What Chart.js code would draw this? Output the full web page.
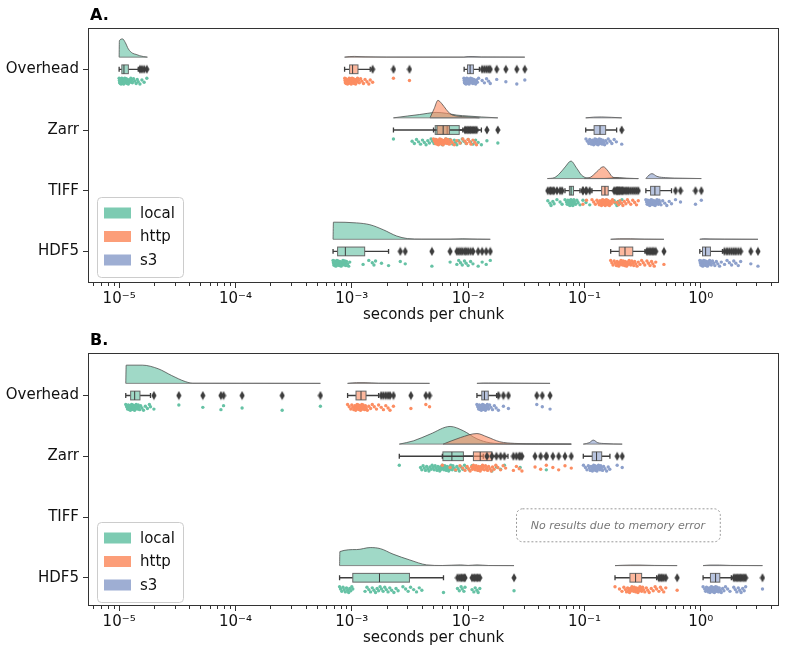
<!DOCTYPE html>
<html>
<head>
<meta charset="utf-8">
<script src="https://cdn.jsdelivr.net/npm/chart.js@4.4.1/dist/chart.umd.min.js"></script>
<style>
  html, body { margin: 0; padding: 0; background: #fff; }
  #wrapA { position: absolute; left: 0; top: 0; width: 800px; height: 330px; }
  #wrapB { position: absolute; left: 0; top: 330px; width: 800px; height: 326px; }
</style>
</head>
<body>
<div id="wrapA"><canvas id="chartA"></canvas></div>
<div id="wrapB"><canvas id="chartB"></canvas></div>
<script>
const categories = ["Overhead", "Zarr", "TIFF", "HDF5"];
const groups = ["local", "http", "s3"];
const xTicks = [1e-5, 1e-4, 1e-3, 1e-2, 1e-1, 1];
const noteText = "No results due to memory error";

/* ===== Panel A : box = [whisker lo, q1, median, q3, whisker hi] ===== */
const aOverheadLocalBox = [1.0e-5, 1.055e-5, 1.1e-5, 1.2e-5, 1.46e-5];
const aOverheadLocalOut = [1.51e-5, 1.57e-5, 1.64e-5, 1.73e-5];
const aOverheadLocalPts = [1.0e-5, 1.005e-5, 1.01e-5, 1.015e-5, 1.02e-5, 1.025e-5, 1.03e-5, 1.035e-5, 1.04e-5, 1.045e-5, 1.05e-5, 1.055e-5, 1.06e-5, 1.065e-5, 1.07e-5, 1.075e-5, 1.08e-5, 1.085e-5, 1.09e-5, 1.095e-5, 1.1e-5, 1.11e-5, 1.12e-5, 1.13e-5, 1.14e-5, 1.15e-5, 1.16e-5, 1.17e-5, 1.18e-5, 1.19e-5, 1.2e-5, 1.22e-5, 1.24e-5, 1.26e-5, 1.28e-5, 1.3e-5, 1.33e-5, 1.36e-5, 1.4e-5, 1.43e-5, 1.46e-5];
const aOverheadLocalKde = [[1.0e-5, 0], [1.005e-5, 0.9], [1.07e-5, 1.0], [1.13e-5, 0.8], [1.2e-5, 0.45], [1.3e-5, 0.22], [1.4e-5, 0.15], [1.5e-5, 0.08], [1.62e-5, 0.03], [1.75e-5, 0]];

const aOverheadHttpBox = [8.67e-4, 9.58e-4, 1.016e-3, 1.13e-3, 1.44e-3];
const aOverheadHttpOut = [1.51e-3, 2.28e-3, 3.13e-3];
const aOverheadHttpPts = [8.7e-4, 8.75e-4, 8.8e-4, 8.85e-4, 8.9e-4, 8.95e-4, 9.0e-4, 9.1e-4, 9.2e-4, 9.3e-4, 9.4e-4, 9.5e-4, 9.55e-4, 9.6e-4, 9.65e-4, 9.7e-4, 9.75e-4, 9.8e-4, 9.85e-4, 9.9e-4, 9.95e-4, 1.0e-3, 1.005e-3, 1.01e-3, 1.02e-3, 1.03e-3, 1.04e-3, 1.05e-3, 1.06e-3, 1.07e-3, 1.08e-3, 1.09e-3, 1.1e-3, 1.12e-3, 1.14e-3, 1.16e-3, 1.19e-3, 1.22e-3, 1.26e-3, 1.3e-3, 1.35e-3, 1.4e-3, 1.44e-3];
const aOverheadHttpKde = [[8.67e-4, 0], [9.5e-4, 0.03], [1.05e-3, 0.04], [1.3e-3, 0.02], [2e-3, 0.005], [9.2e-3, 0]];

const aOverheadS3Box = [9.24e-3, 9.87e-3, 1.04e-2, 1.11e-2, 1.25e-2];
const aOverheadS3Out = [1.32e-2, 1.38e-2, 1.44e-2, 1.5e-2, 1.55e-2, 1.76e-2, 2.11e-2, 2.62e-2, 3.07e-2];
const aOverheadS3Pts = [9.2e-3, 9.25e-3, 9.3e-3, 9.35e-3, 9.4e-3, 9.45e-3, 9.5e-3, 9.55e-3, 9.6e-3, 9.65e-3, 9.7e-3, 9.75e-3, 9.8e-3, 9.85e-3, 9.9e-3, 9.95e-3, 1.0e-2, 1.005e-2, 1.01e-2, 1.02e-2, 1.03e-2, 1.04e-2, 1.05e-2, 1.06e-2, 1.07e-2, 1.08e-2, 1.09e-2, 1.1e-2, 1.12e-2, 1.14e-2, 1.16e-2, 1.18e-2, 1.2e-2, 1.23e-2];
const aOverheadS3Kde = [[9.2e-3, 0], [1.0e-2, 0.03], [1.1e-2, 0.03], [1.3e-2, 0.01], [3.07e-2, 0]];

const aZarrLocalBox = [2.28e-3, 5.21e-3, 6.6e-3, 8.38e-3, 1.3e-2];
const aZarrLocalOut = [1.45e-2, 1.8e-2];
const aZarrLocalPts = [2.28e-3, 3.3e-3, 3.45e-3, 3.6e-3, 3.75e-3, 3.9e-3, 4.05e-3, 4.2e-3, 4.35e-3, 4.5e-3, 4.65e-3, 4.8e-3, 4.95e-3, 5.1e-3, 5.25e-3, 5.4e-3, 5.55e-3, 5.7e-3, 5.85e-3, 6.0e-3, 6.15e-3, 6.3e-3, 6.45e-3, 6.6e-3, 6.8e-3, 7.0e-3, 7.2e-3, 7.4e-3, 7.6e-3, 7.8e-3, 8.0e-3, 8.3e-3, 8.6e-3, 8.9e-3, 9.2e-3, 9.6e-3, 1.0e-2, 1.05e-2, 1.1e-2, 1.16e-2, 1.22e-2, 1.3e-2];
const aZarrLocalKde = [[2.28e-3, 0], [3.0e-3, 0.1], [3.8e-3, 0.18], [4.5e-3, 0.25], [5.3e-3, 0.3], [6.5e-3, 0.25], [8e-3, 0.15], [1.0e-2, 0.1], [1.3e-2, 0.05], [1.8e-2, 0]];

const aZarrHttpBox = [5.04e-3, 5.4e-3, 6.1e-3, 6.9e-3, 9.0e-3];
const aZarrHttpOut = [9.4e-3, 9.7e-3, 1.0e-2, 1.03e-2, 1.06e-2, 1.1e-2, 1.14e-2, 1.18e-2];
const aZarrHttpPts = [5.04e-3, 5.15e-3, 5.25e-3, 5.3e-3, 5.35e-3, 5.4e-3, 5.45e-3, 5.5e-3, 5.55e-3, 5.6e-3, 5.65e-3, 5.7e-3, 5.75e-3, 5.8e-3, 5.85e-3, 5.9e-3, 5.95e-3, 6.0e-3, 6.05e-3, 6.1e-3, 6.2e-3, 6.3e-3, 6.4e-3, 6.5e-3, 6.6e-3, 6.7e-3, 6.8e-3, 6.9e-3, 7.1e-3, 7.3e-3, 7.6e-3, 8.0e-3, 8.5e-3, 9.0e-3];
const aZarrHttpKde = [[4.7e-3, 0], [5.1e-3, 0.5], [5.5e-3, 0.96], [5.9e-3, 0.8], [6.5e-3, 0.45], [7.1e-3, 0.2], [8e-3, 0.1], [1.0e-2, 0.05], [1.25e-2, 0]];

const aZarrS3Box = [0.1025, 0.121, 0.136, 0.152, 0.189];
const aZarrS3Out = [0.209];
const aZarrS3Pts = [0.103, 0.106, 0.109, 0.111, 0.113, 0.115, 0.117, 0.119, 0.12, 0.121, 0.122, 0.123, 0.124, 0.125, 0.126, 0.127, 0.128, 0.129, 0.13, 0.131, 0.132, 0.133, 0.134, 0.135, 0.136, 0.138, 0.14, 0.142, 0.144, 0.146, 0.149, 0.152, 0.156, 0.16, 0.166, 0.172, 0.18, 0.188];
const aZarrS3Kde = [[0.1025, 0], [0.12, 0.04], [0.14, 0.05], [0.17, 0.03], [0.209, 0]];

const aTiffLocalBox = [0.068, 0.0742, 0.0767, 0.0805, 0.0915];
const aTiffLocalOut = [0.0484, 0.0505, 0.0516, 0.0535, 0.0548, 0.058, 0.0617, 0.0642, 0.097, 0.103, 0.111, 0.18, 0.185, 0.19, 0.195, 0.2, 0.21];
const aTiffLocalPts = [0.068, 0.07, 0.071, 0.072, 0.073, 0.0735, 0.074, 0.0745, 0.075, 0.0755, 0.076, 0.0763, 0.0766, 0.077, 0.0773, 0.0776, 0.078, 0.0785, 0.079, 0.0795, 0.08, 0.0805, 0.081, 0.082, 0.084, 0.086, 0.088, 0.0915];
const aTiffLocalKde = [[0.048, 0], [0.055, 0.05], [0.0616, 0.3], [0.0683, 0.64], [0.0765, 0.96], [0.0857, 0.57], [0.0947, 0.18], [0.104, 0.04], [0.12, 0.01], [0.15, 0.01], [0.18, 0.06], [0.2, 0.05], [0.23, 0.01], [0.29, 0]];

const aTiffHttpBox = [0.116, 0.1405, 0.15, 0.16, 0.179];
const aTiffHttpOut = [0.097, 0.104, 0.19, 0.196, 0.202, 0.208, 0.214, 0.22, 0.227, 0.234, 0.24, 0.25, 0.26, 0.27, 0.28, 0.29];
const aTiffHttpPts = [0.116, 0.12, 0.124, 0.128, 0.131, 0.134, 0.136, 0.138, 0.14, 0.141, 0.142, 0.143, 0.144, 0.145, 0.146, 0.147, 0.148, 0.149, 0.15, 0.151, 0.152, 0.153, 0.154, 0.155, 0.156, 0.157, 0.158, 0.159, 0.16, 0.162, 0.164, 0.167, 0.17, 0.174, 0.178];
const aTiffHttpKde = [[0.1, 0], [0.113, 0.08], [0.127, 0.36], [0.145, 0.65], [0.16, 0.4], [0.172, 0.12], [0.185, 0.04], [0.22, 0.02], [0.29, 0]];

const aTiffS3Box = [0.337, 0.37, 0.403, 0.445, 0.56];
const aTiffS3Out = [0.606, 0.669, 0.9, 1.01];
const aTiffS3Pts = [0.337, 0.342, 0.346, 0.35, 0.353, 0.356, 0.359, 0.362, 0.365, 0.368, 0.371, 0.374, 0.377, 0.38, 0.384, 0.388, 0.392, 0.396, 0.4, 0.405, 0.41, 0.415, 0.42, 0.426, 0.432, 0.438, 0.445, 0.455, 0.47, 0.49, 0.51, 0.535, 0.56];
const aTiffS3Kde = [[0.337, 0], [0.36, 0.2], [0.38, 0.27], [0.42, 0.12], [0.5, 0.05], [0.7, 0.02], [1.01, 0]];

const aHdfLocalBox = [6.9e-4, 7.55e-4, 8.8e-4, 1.29e-3, 2.07e-3];
const aHdfLocalOut = [2.61e-3, 2.88e-3, 4.88e-3, 7.0e-3, 8.0e-3, 8.3e-3, 8.6e-3, 8.9e-3, 9.3e-3, 9.6e-3, 1.0e-2, 1.05e-2, 1.1e-2, 1.22e-2, 1.32e-2, 1.43e-2, 1.55e-2];
const aHdfLocalPts = [6.9e-4, 6.95e-4, 7.0e-4, 7.05e-4, 7.1e-4, 7.15e-4, 7.2e-4, 7.25e-4, 7.3e-4, 7.35e-4, 7.4e-4, 7.45e-4, 7.5e-4, 7.55e-4, 7.6e-4, 7.7e-4, 7.8e-4, 7.9e-4, 8.0e-4, 8.1e-4, 8.2e-4, 8.3e-4, 8.4e-4, 8.5e-4, 8.6e-4, 8.7e-4, 8.8e-4, 8.9e-4, 9.0e-4, 9.2e-4, 9.4e-4, 9.6e-4, 1.25e-3, 1.4e-3, 1.5e-3, 1.55e-3, 1.6e-3, 1.8e-3, 2.07e-3];
const aHdfLocalKde = [[6.9e-4, 0], [6.95e-4, 0.94], [1.1e-3, 0.9], [1.43e-3, 0.8], [1.87e-3, 0.52], [2.43e-3, 0.18], [3.0e-3, 0.04], [4e-3, 0.01], [7e-3, 0.01], [9e-3, 0.03], [1.2e-2, 0.01], [1.55e-2, 0]];

const aHdfHttpBox = [0.168, 0.199, 0.223, 0.26, 0.331];
const aHdfHttpOut = [0.344, 0.355, 0.366, 0.377, 0.387, 0.398, 0.41, 0.482];
const aHdfHttpPts = [0.168, 0.172, 0.176, 0.18, 0.184, 0.188, 0.191, 0.194, 0.197, 0.2, 0.203, 0.206, 0.209, 0.212, 0.215, 0.218, 0.221, 0.224, 0.227, 0.23, 0.234, 0.238, 0.242, 0.246, 0.25, 0.255, 0.26, 0.265, 0.27, 0.276, 0.283, 0.29, 0.3, 0.31, 0.32, 0.33];
const aHdfHttpKde = [[0.168, 0], [0.2, 0.03], [0.25, 0.03], [0.33, 0.01], [0.482, 0]];

const aHdfS3Box = [0.98, 1.034, 1.1, 1.21, 1.535];
const aHdfS3Out = [1.6, 1.68, 1.76, 1.84, 1.92, 2.0, 2.1, 2.2, 2.69, 3.1];
const aHdfS3Pts = [0.98, 0.99, 1.0, 1.01, 1.02, 1.025, 1.03, 1.035, 1.04, 1.045, 1.05, 1.06, 1.07, 1.08, 1.09, 1.1, 1.11, 1.12, 1.13, 1.14, 1.15, 1.17, 1.19, 1.21, 1.23, 1.26, 1.29, 1.32, 1.36, 1.4, 1.45, 1.5];
const aHdfS3Kde = [[0.98, 0], [1.05, 0.03], [1.2, 0.02], [1.6, 0.01], [3.1, 0]];

/* ===== Panel B ===== */
const bOverheadLocalBox = [1.14e-5, 1.256e-5, 1.36e-5, 1.51e-5, 1.86e-5];
const bOverheadLocalOut = [1.99e-5, 3.26e-5, 5.24e-5, 7.5e-5, 7.9e-5, 1.14e-4, 2.52e-4, 5.37e-4];
const bOverheadLocalPts = [1.14e-5, 1.16e-5, 1.18e-5, 1.2e-5, 1.21e-5, 1.22e-5, 1.23e-5, 1.24e-5, 1.25e-5, 1.26e-5, 1.27e-5, 1.28e-5, 1.29e-5, 1.3e-5, 1.31e-5, 1.32e-5, 1.33e-5, 1.34e-5, 1.35e-5, 1.36e-5, 1.37e-5, 1.38e-5, 1.4e-5, 1.42e-5, 1.44e-5, 1.46e-5, 1.48e-5, 1.5e-5, 1.53e-5, 1.57e-5, 1.62e-5, 1.68e-5, 1.75e-5, 1.82e-5, 1.86e-5];
const bOverheadLocalKde = [[1.14e-5, 0], [1.15e-5, 1.0], [1.58e-5, 1.0], [2.17e-5, 0.8], [2.83e-5, 0.43], [3.7e-5, 0.1], [4.3e-5, 0.01], [5.37e-4, 0]];

const bOverheadHttpBox = [9.2e-4, 1.087e-3, 1.2e-3, 1.325e-3, 1.7e-3];
const bOverheadHttpOut = [1.79e-3, 1.87e-3, 1.96e-3, 2.05e-3, 2.13e-3, 2.28e-3, 3.22e-3, 4.33e-3, 4.66e-3];
const bOverheadHttpPts = [9.2e-4, 9.5e-4, 9.8e-4, 1.0e-3, 1.02e-3, 1.04e-3, 1.06e-3, 1.07e-3, 1.08e-3, 1.09e-3, 1.1e-3, 1.11e-3, 1.12e-3, 1.13e-3, 1.14e-3, 1.15e-3, 1.16e-3, 1.17e-3, 1.18e-3, 1.19e-3, 1.2e-3, 1.21e-3, 1.22e-3, 1.23e-3, 1.24e-3, 1.25e-3, 1.27e-3, 1.29e-3, 1.31e-3, 1.33e-3, 1.36e-3, 1.4e-3, 1.45e-3, 1.5e-3, 1.56e-3, 1.63e-3, 1.7e-3];
const bOverheadHttpKde = [[9.2e-4, 0], [1.1e-3, 0.04], [1.3e-3, 0.04], [1.7e-3, 0.01], [4.66e-3, 0]];

const bOverheadS3Box = [1.19e-2, 1.31e-2, 1.38e-2, 1.49e-2, 1.76e-2];
const bOverheadS3Out = [1.82e-2, 2.01e-2, 2.22e-2, 3.89e-2, 4.34e-2, 5.06e-2];
const bOverheadS3Pts = [1.19e-2, 1.21e-2, 1.23e-2, 1.25e-2, 1.26e-2, 1.27e-2, 1.28e-2, 1.29e-2, 1.3e-2, 1.31e-2, 1.32e-2, 1.33e-2, 1.34e-2, 1.35e-2, 1.36e-2, 1.37e-2, 1.38e-2, 1.39e-2, 1.4e-2, 1.41e-2, 1.42e-2, 1.44e-2, 1.46e-2, 1.48e-2, 1.5e-2, 1.53e-2, 1.57e-2, 1.62e-2, 1.68e-2, 1.74e-2];
const bOverheadS3Kde = [[1.19e-2, 0], [1.35e-2, 0.02], [1.5e-2, 0.02], [5.06e-2, 0]];

const bZarrLocalBox = [2.56e-3, 6.07e-3, 7.25e-3, 9.1e-3, 1.35e-2];
const bZarrLocalOut = [1.45e-2, 1.6e-2, 1.75e-2, 1.9e-2, 2.05e-2, 2.8e-2, 4.7e-2];
const bZarrLocalPts = [2.56e-3, 3.9e-3, 4.0e-3, 4.1e-3, 4.2e-3, 4.3e-3, 4.4e-3, 4.5e-3, 4.6e-3, 4.7e-3, 4.8e-3, 4.9e-3, 5.0e-3, 5.1e-3, 5.2e-3, 5.3e-3, 5.4e-3, 5.5e-3, 5.6e-3, 5.7e-3, 5.8e-3, 5.9e-3, 6.0e-3, 6.1e-3, 6.2e-3, 6.3e-3, 6.4e-3, 6.5e-3, 6.6e-3, 6.7e-3, 6.8e-3, 6.9e-3, 7.0e-3, 7.1e-3, 7.2e-3, 7.3e-3, 7.4e-3, 7.6e-3, 7.8e-3, 8.0e-3, 8.2e-3, 8.4e-3, 8.7e-3, 9.0e-3, 9.3e-3, 9.7e-3, 1.02e-2, 1.08e-2, 1.15e-2, 1.22e-2, 1.3e-2];
const bZarrLocalKde = [[2.56e-3, 0], [3.39e-3, 0.18], [4.72e-3, 0.55], [7.0e-3, 0.97], [9.1e-3, 0.73], [1.19e-2, 0.29], [1.55e-2, 0.07], [2.2e-2, 0.02], [4e-2, 0.01], [7.7e-2, 0]];

const bZarrHttpBox = [6.0e-3, 1.11e-2, 1.27e-2, 1.6e-2, 2.2e-2];
const bZarrHttpOut = [2.45e-2, 2.6e-2, 2.75e-2, 2.9e-2, 3.76e-2, 4.2e-2, 4.7e-2, 5.35e-2, 6.0e-2, 6.8e-2, 7.7e-2];
const bZarrHttpPts = [6.0e-3, 7.0e-3, 7.8e-3, 8.5e-3, 9.0e-3, 9.4e-3, 9.8e-3, 1.01e-2, 1.04e-2, 1.07e-2, 1.09e-2, 1.11e-2, 1.13e-2, 1.15e-2, 1.17e-2, 1.19e-2, 1.21e-2, 1.23e-2, 1.25e-2, 1.27e-2, 1.29e-2, 1.31e-2, 1.33e-2, 1.35e-2, 1.38e-2, 1.41e-2, 1.44e-2, 1.47e-2, 1.5e-2, 1.54e-2, 1.58e-2, 1.62e-2, 1.67e-2, 1.73e-2, 1.8e-2, 1.9e-2, 2.0e-2, 2.1e-2];
const bZarrHttpKde = [[6.1e-3, 0], [8.6e-3, 0.36], [1.19e-2, 0.58], [1.45e-2, 0.4], [1.87e-2, 0.13], [2.5e-2, 0.04], [4e-2, 0.01], [7.7e-2, 0]];

const bZarrS3Box = [0.0977, 0.1166, 0.127, 0.1406, 0.1655];
const bZarrS3Out = [0.191, 0.211];
const bZarrS3Pts = [0.098, 0.102, 0.105, 0.108, 0.11, 0.112, 0.114, 0.116, 0.117, 0.118, 0.119, 0.12, 0.121, 0.122, 0.123, 0.124, 0.125, 0.126, 0.127, 0.128, 0.129, 0.13, 0.132, 0.134, 0.136, 0.138, 0.14, 0.143, 0.146, 0.15, 0.155, 0.16, 0.165];
const bZarrS3Kde = [[0.0977, 0], [0.11, 0.08], [0.119, 0.22], [0.13, 0.08], [0.15, 0.03], [0.211, 0]];

const bHdfLocalBox = [7.85e-4, 1.02e-3, 1.73e-3, 3.13e-3, 6.14e-3];
const bHdfLocalOut = [8.1e-3, 8.4e-3, 8.7e-3, 8.9e-3, 9.2e-3, 9.4e-3, 1.08e-2, 1.12e-2, 1.15e-2, 1.19e-2, 1.22e-2, 1.26e-2, 2.48e-2];
const bHdfLocalPts = [7.85e-4, 8.0e-4, 8.2e-4, 8.4e-4, 8.6e-4, 8.8e-4, 9.0e-4, 9.2e-4, 9.4e-4, 9.6e-4, 9.8e-4, 1.0e-3, 1.02e-3, 1.3e-3, 1.35e-3, 1.4e-3, 1.45e-3, 1.5e-3, 1.55e-3, 1.6e-3, 1.65e-3, 1.7e-3, 1.75e-3, 1.8e-3, 1.86e-3, 1.92e-3, 1.98e-3, 2.05e-3, 2.12e-3, 2.2e-3, 2.3e-3, 2.4e-3, 2.5e-3, 2.75e-3, 2.9e-3, 3.05e-3, 3.2e-3, 3.4e-3, 3.6e-3, 3.8e-3, 4.0e-3, 6.14e-3];
const bHdfLocalKde = [[7.85e-4, 0], [7.9e-4, 0.77], [1.1e-3, 0.88], [1.44e-3, 0.99], [1.76e-3, 0.93], [2.26e-3, 0.63], [3.15e-3, 0.31], [4.4e-3, 0.04], [6e-3, 0.005], [8.6e-3, 0.04], [1.0e-2, 0.01], [1.19e-2, 0.04], [1.5e-2, 0.005], [2.48e-2, 0]];

const bHdfHttpBox = [0.183, 0.246, 0.275, 0.31, 0.417];
const bHdfHttpOut = [0.436, 0.45, 0.463, 0.48, 0.5, 0.626];
const bHdfHttpPts = [0.183, 0.2, 0.21, 0.218, 0.225, 0.23, 0.235, 0.24, 0.244, 0.248, 0.252, 0.256, 0.26, 0.264, 0.268, 0.272, 0.276, 0.28, 0.284, 0.288, 0.292, 0.296, 0.3, 0.305, 0.31, 0.316, 0.322, 0.33, 0.34, 0.35, 0.36, 0.375, 0.39, 0.405, 0.417];
const bHdfHttpKde = [[0.183, 0], [0.25, 0.03], [0.3, 0.03], [0.4, 0.01], [0.626, 0]];

const bHdfS3Box = [1.046, 1.21, 1.34, 1.456, 1.83];
const bHdfS3Out = [1.92, 1.98, 2.04, 2.1, 2.16, 2.22, 2.29, 2.36, 2.43, 3.39];
const bHdfS3Pts = [1.046, 1.08, 1.1, 1.12, 1.14, 1.16, 1.18, 1.19, 1.2, 1.21, 1.22, 1.23, 1.24, 1.25, 1.26, 1.27, 1.28, 1.29, 1.3, 1.31, 1.32, 1.33, 1.34, 1.35, 1.36, 1.38, 1.4, 1.42, 1.44, 1.47, 1.5, 1.54, 1.58, 1.63, 1.7, 1.78];
const bHdfS3Kde = [[1.046, 0], [1.2, 0.03], [1.45, 0.03], [1.8, 0.01], [3.39, 0]];

/* ===============================
   LOOK
================================ */
const FONT = "'DejaVu Sans', sans-serif";
const lineColors = ["#66c2a5", "#fc8d62", "#8da0cb"];
const fillColors = ["rgba(102,194,165,0.62)", "rgba(252,141,98,0.62)", "rgba(141,160,203,0.62)"];
const legendColors = ["rgba(102,194,165,0.85)", "rgba(252,141,98,0.85)", "rgba(141,160,203,0.85)"];
const X_MIN = 5.4e-6, X_MAX = 4.7;
const VIOLIN_GAP = 0.2, VIOLIN_H = 0.3, STRIP_OFF = 0.195, BOX_HALF = 0.072, CAP_HALF = 0.04;

const grp = (box, out, pts, kde) => ({ box, out, pts, kde });

const panelA = [
  [grp(aOverheadLocalBox, aOverheadLocalOut, aOverheadLocalPts, aOverheadLocalKde),
   grp(aOverheadHttpBox, aOverheadHttpOut, aOverheadHttpPts, aOverheadHttpKde),
   grp(aOverheadS3Box, aOverheadS3Out, aOverheadS3Pts, aOverheadS3Kde)],
  [grp(aZarrLocalBox, aZarrLocalOut, aZarrLocalPts, aZarrLocalKde),
   grp(aZarrHttpBox, aZarrHttpOut, aZarrHttpPts, aZarrHttpKde),
   grp(aZarrS3Box, aZarrS3Out, aZarrS3Pts, aZarrS3Kde)],
  [grp(aTiffLocalBox, aTiffLocalOut, aTiffLocalPts, aTiffLocalKde),
   grp(aTiffHttpBox, aTiffHttpOut, aTiffHttpPts, aTiffHttpKde),
   grp(aTiffS3Box, aTiffS3Out, aTiffS3Pts, aTiffS3Kde)],
  [grp(aHdfLocalBox, aHdfLocalOut, aHdfLocalPts, aHdfLocalKde),
   grp(aHdfHttpBox, aHdfHttpOut, aHdfHttpPts, aHdfHttpKde),
   grp(aHdfS3Box, aHdfS3Out, aHdfS3Pts, aHdfS3Kde)]
];

const panelB = [
  [grp(bOverheadLocalBox, bOverheadLocalOut, bOverheadLocalPts, bOverheadLocalKde),
   grp(bOverheadHttpBox, bOverheadHttpOut, bOverheadHttpPts, bOverheadHttpKde),
   grp(bOverheadS3Box, bOverheadS3Out, bOverheadS3Pts, bOverheadS3Kde)],
  [grp(bZarrLocalBox, bZarrLocalOut, bZarrLocalPts, bZarrLocalKde),
   grp(bZarrHttpBox, bZarrHttpOut, bZarrHttpPts, bZarrHttpKde),
   grp(bZarrS3Box, bZarrS3Out, bZarrS3Pts, bZarrS3Kde)],
  [null, null, null],
  [grp(bHdfLocalBox, bHdfLocalOut, bHdfLocalPts, bHdfLocalKde),
   grp(bHdfHttpBox, bHdfHttpOut, bHdfHttpPts, bHdfHttpKde),
   grp(bHdfS3Box, bHdfS3Out, bHdfS3Pts, bHdfS3Kde)]
];

/* thin seaborn-like diamond marker */
const diamond = (() => {
  const c = document.createElement("canvas");
  c.width = 6; c.height = 10;
  const g = c.getContext("2d");
  g.fillStyle = "#3d3d3d";
  g.beginPath();
  g.moveTo(3, 0.5); g.lineTo(5.6, 5); g.lineTo(3, 9.5); g.lineTo(0.4, 5);
  g.closePath(); g.fill();
  return c;
})();

const jitter = i => (((i * 37) % 11) - 5) * 0.0095;

function decadeLabel(v) {
  const sup = { "-": "\u207B", "0": "\u2070", "1": "\u00B9", "2": "\u00B2", "3": "\u00B3", "4": "\u2074", "5": "\u2075", "6": "\u2076" };
  const e = Math.round(Math.log10(v));
  return "10" + String(e).split("").map(c => sup[c]).join("");
}

/* ===============================
   DATASETS
================================ */
function buildDatasets(panel) {
  const ds = [];
  panel.forEach((row, ci) => {
    row.forEach((g, gi) => {
      if (!g) return;
      const base = ci - VIOLIN_GAP;
      ds.push({
        data: g.kde.map(([x, d]) => ({ x, y: base - d * VIOLIN_H })),
        showLine: true,
        fill: { value: base },
        backgroundColor: fillColors[gi],
        borderColor: "rgba(70,70,70,0.75)",
        borderWidth: 1,
        pointRadius: 0,
        cubicInterpolationMode: "monotone",
        order: 60 - gi
      });
      ds.push({
        data: [{ x: g.kde[0][0], y: base }, { x: g.kde[g.kde.length - 1][0], y: base }],
        showLine: true,
        borderColor: "rgba(110,110,110,0.8)",
        borderWidth: 1,
        pointRadius: 0,
        order: 50
      });
      ds.push({
        data: g.pts.concat(g.out).map((x, i) => ({ x, y: ci + STRIP_OFF + jitter(i) })),
        pointRadius: 1.7,
        pointBorderWidth: 0,
        backgroundColor: lineColors[gi],
        order: 40 - gi
      });
      ds.push({
        data: g.out.map(x => ({ x, y: ci })),
        pointStyle: diamond,
        pointRadius: 4,
        order: 10
      });
    });
  });
  return ds;
}

/* ===============================
   BOXES (drawn under datasets)
================================ */
function boxPlugin(panel) {
  return {
    id: "boxes",
    beforeDatasetsDraw(chart) {
      const { ctx, scales: { x, y } } = chart;
      const px = v => x.getPixelForValue(v);
      ctx.save();
      panel.forEach((row, ci) => row.forEach((g, gi) => {
        if (!g) return;
        const [lo, q1, md, q3, hi] = g.box;
        const cy = y.getPixelForValue(ci);
        const hh = Math.abs(y.getPixelForValue(ci + BOX_HALF) - cy);
        const ch = Math.abs(y.getPixelForValue(ci + CAP_HALF) - cy);
        ctx.strokeStyle = "#3d3d3d";
        ctx.lineWidth = 1.3;
        ctx.beginPath();
        ctx.moveTo(px(lo), cy); ctx.lineTo(px(q1), cy);
        ctx.moveTo(px(q3), cy); ctx.lineTo(px(hi), cy);
        ctx.moveTo(px(lo), cy - ch); ctx.lineTo(px(lo), cy + ch);
        ctx.moveTo(px(hi), cy - ch); ctx.lineTo(px(hi), cy + ch);
        ctx.stroke();
        ctx.fillStyle = fillColors[gi];
        ctx.fillRect(px(q1), cy - hh, px(q3) - px(q1), 2 * hh);
        ctx.strokeStyle = "#666";
        ctx.lineWidth = 1;
        ctx.strokeRect(px(q1), cy - hh, px(q3) - px(q1), 2 * hh);
        ctx.strokeStyle = "#3d3d3d";
        ctx.beginPath();
        ctx.moveTo(px(md), cy - hh); ctx.lineTo(px(md), cy + hh);
        ctx.stroke();
      }));
      ctx.restore();
    }
  };
}

/* ===============================
   FRAME, MINOR TICKS, TITLE, LEGEND, NOTE
================================ */
function decorPlugin(cfg) {
  return {
    id: "decor",
    afterDraw(chart) {
      const { ctx, chartArea: a, scales: { x, y } } = chart;
      ctx.save();
      ctx.strokeStyle = "#333";
      ctx.lineWidth = 1;
      ctx.strokeRect(a.left + 0.5, a.top + 0.5, a.right - a.left - 1, a.bottom - a.top - 1);

      // minor ticks
      ctx.beginPath();
      for (let e = -6; e <= 0; e++) {
        for (let m = 2; m <= 9; m++) {
          const v = m * Math.pow(10, e);
          if (v < X_MIN || v > X_MAX) continue;
          const p = Math.round(x.getPixelForValue(v)) + 0.5;
          ctx.moveTo(p, a.bottom); ctx.lineTo(p, a.bottom + 3);
        }
      }
      ctx.stroke();

      // panel letter
      ctx.fillStyle = "#000";
      ctx.font = "bold 16px " + FONT;
      ctx.textBaseline = "alphabetic";
      ctx.fillText(cfg.title, a.left + 2, a.top - 8);

      // legend
      const lx = a.left + 9, lh = 80, ly = a.bottom - cfg.legendGap - lh;
      ctx.fillStyle = "rgba(255,255,255,0.85)";
      ctx.strokeStyle = "#ccc";
      ctx.beginPath();
      ctx.roundRect(lx + 0.5, ly + 0.5, 86, lh, 4);
      ctx.fill(); ctx.stroke();
      ctx.font = "15px " + FONT;
      ctx.textBaseline = "middle";
      groups.forEach((name, i) => {
        const cy = ly + 16 + i * 23.5;
        ctx.fillStyle = legendColors[i];
        ctx.fillRect(lx + 7, cy - 5.5, 27, 11);
        ctx.fillStyle = "#111";
        ctx.fillText(name, lx + 43, cy + 1);
      });

      // note box
      if (cfg.note) {
        const n = cfg.note;
        const x0 = x.getPixelForValue(n.x0), x1 = x.getPixelForValue(n.x1);
        const y0 = y.getPixelForValue(n.row + n.dy0), y1 = y.getPixelForValue(n.row + n.dy1);
        ctx.setLineDash([2, 2]);
        ctx.strokeStyle = "#999";
        ctx.beginPath();
        ctx.roundRect(x0 + 0.5, y0 + 0.5, x1 - x0, y1 - y0, 6);
        ctx.stroke();
        ctx.setLineDash([]);
        ctx.fillStyle = "#777";
        ctx.font = "italic 11px " + FONT;
        ctx.textAlign = "center";
        ctx.fillText(noteText, (x0 + x1) / 2, (y0 + y1) / 2 + 1);
      }
      ctx.restore();
    }
  };
}

/* ===============================
   CHART FACTORY
================================ */
function makeChart(id, panel, cfg) {
  return new Chart(document.getElementById(id), {
    type: "scatter",
    data: { datasets: buildDatasets(panel) },
    options: {
      responsive: true,
      maintainAspectRatio: false,
      animation: false,
      events: [],
      layout: { padding: { top: cfg.padTop, right: 21, left: 0, bottom: 0 } },
      plugins: { legend: { display: false }, tooltip: { enabled: false } },
      scales: {
        x: {
          type: "logarithmic",
          min: X_MIN,
          max: X_MAX,
          afterBuildTicks: s => { s.ticks = xTicks.map(v => ({ value: v })); },
          afterFit: s => { s.height = cfg.xAxisHeight; },
          ticks: {
            callback: v => decadeLabel(v),
            font: { family: FONT, size: 15 },
            color: "#111",
            padding: 2,
            maxRotation: 0,
            autoSkip: false
          },
          grid: { drawOnChartArea: false, tickLength: 5, tickColor: "#333" },
          border: { display: false },
          title: {
            display: true,
            text: "seconds per chunk",
            font: { family: FONT, size: 15 },
            color: "#111",
            padding: { top: 0, bottom: cfg.xTitlePad }
          }
        },
        y: {
          type: "linear",
          reverse: true,
          min: cfg.yMin,
          max: cfg.yMax,
          afterBuildTicks: s => { s.ticks = categories.map((c, i) => ({ value: i })); },
          afterFit: s => { s.width = 88; },
          ticks: {
            callback: v => categories[v],
            font: { family: FONT, size: 15 },
            color: "#111",
            padding: 4,
            autoSkip: false
          },
          grid: { drawOnChartArea: false, tickLength: 5, tickColor: "#333" },
          border: { display: false }
        }
      }
    },
    plugins: [boxPlugin(panel), decorPlugin(cfg)]
  });
}

makeChart("chartA", panelA, {
  title: "A.", padTop: 28, xAxisHeight: 47, xTitlePad: 6,
  yMin: -0.68, yMax: 3.52, legendGap: 6
});

makeChart("chartB", panelB, {
  title: "B.", padTop: 23, xAxisHeight: 50, xTitlePad: 9,
  yMin: -0.70, yMax: 3.465, legendGap: 4,
  note: { x0: 0.0258, x1: 1.456, row: 2, dy0: -0.143, dy1: 0.40 }
});
</script>
</body>
</html>
